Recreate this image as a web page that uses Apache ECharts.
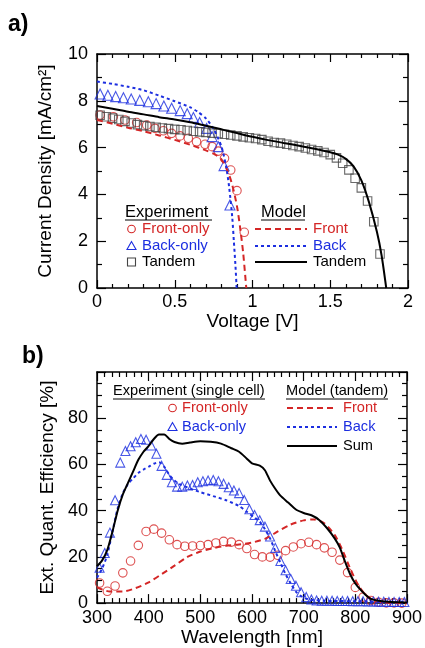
<!DOCTYPE html>
<html>
<head>
<meta charset="utf-8">
<script src="https://cdn.jsdelivr.net/npm/echarts@6/dist/echarts.min.js"></script>
<style>
  html, body { margin: 0; padding: 0; background: #fff; }
  #chart { width: 425px; height: 648px; }
</style>
</head>
<body>
<div id="chart"></div>
<script>
"use strict";
// ---- panel a) J-V curves, [voltage V, current density mA/cm2] ----
const jvFrontExp = [[0.02,7.39],[0.105,7.32],[0.18,7.18],[0.255,7.07],[0.32,6.96],[0.373,6.82],[0.427,6.72],[0.48,6.61],[0.534,6.5],[0.587,6.4],[0.64,6.25],[0.695,6.14],[0.74,6.04],[0.78,5.85],[0.82,5.54],[0.86,5.04],[0.9,4.16],[0.947,2.38]];
const jvBackExp = [[0.02,8.29],[0.07,8.24],[0.12,8.18],[0.17,8.13],[0.22,8.08],[0.275,8.02],[0.33,7.96],[0.38,7.88],[0.43,7.78],[0.48,7.68],[0.535,7.58],[0.58,7.45],[0.62,7.29],[0.66,7.07],[0.705,6.82],[0.74,6.47],[0.78,6.04],[0.817,5.23],[0.855,3.55]];
const jvTandemExp = [[0.02,7.38],[0.06,7.32],[0.1,7.26],[0.14,7.2],[0.18,7.12],[0.22,7.05],[0.26,6.98],[0.3,6.94],[0.34,6.9],[0.38,6.87],[0.42,6.84],[0.46,6.81],[0.5,6.78],[0.54,6.76],[0.58,6.73],[0.62,6.7],[0.66,6.67],[0.7,6.65],[0.74,6.62],[0.78,6.6],[0.82,6.57],[0.86,6.54],[0.9,6.5],[0.94,6.46],[0.98,6.42],[1.02,6.39],[1.06,6.34],[1.1,6.27],[1.14,6.22],[1.18,6.19],[1.22,6.14],[1.26,6.09],[1.3,6.04],[1.34,5.98],[1.38,5.92],[1.42,5.86],[1.46,5.79],[1.5,5.7],[1.54,5.56],[1.58,5.33],[1.62,5.05],[1.66,4.69],[1.7,4.28],[1.74,3.72],[1.78,2.83],[1.82,1.45]];
const jvFrontModel = [[0,7.18],[0.1,7.02],[0.2,6.85],[0.3,6.7],[0.4,6.52],[0.5,6.33],[0.6,6.12],[0.7,5.88],[0.76,5.7],[0.8,5.5],[0.84,5.0],[0.87,4.4],[0.9,3.5],[0.92,2.6],[0.94,1.5],[0.96,0]];
const jvBackModel = [[0,8.82],[0.1,8.72],[0.2,8.6],[0.3,8.45],[0.4,8.22],[0.5,7.98],[0.6,7.72],[0.65,7.52],[0.7,7.25],[0.75,6.8],[0.8,6.05],[0.83,5.2],[0.85,4.3],[0.87,3.0],[0.88,2.0],[0.89,1.0],[0.898,0]];
const jvTandemModel = [[0,7.78],[0.1,7.66],[0.2,7.53],[0.3,7.42],[0.4,7.3],[0.5,7.2],[0.6,7.08],[0.7,6.93],[0.8,6.78],[0.9,6.62],[1.0,6.46],[1.1,6.32],[1.2,6.2],[1.3,6.08],[1.4,5.95],[1.5,5.8],[1.55,5.7],[1.6,5.52],[1.65,5.2],[1.7,4.6],[1.75,3.65],[1.8,2.4],[1.83,1.4],[1.86,0]];

// ---- panel b) EQE spectra, [wavelength nm, EQE %] ----
const eqeFrontExp = [[305,8.7],[320,5.1],[335,7.4],[350,13.1],[365,18.2],[380,25.0],[395,31.0],[410,32.0],[425,30.3],[440,27.4],[455,25.3],[470,24.6],[485,24.7],[500,24.9],[515,25.3],[530,26.0],[545,26.7],[560,26.4],[575,25.3],[590,23.6],[605,21.0],[620,20.0],[635,19.9],[650,20.7],[665,22.7],[680,24.3],[695,25.7],[710,26.3],[725,25.3],[740,23.9],[755,22.0],[770,18.6],[785,13.2],[800,6.8],[815,2.6],[830,1.1],[845,0.4],[860,0.1],[875,0.1],[890,0]];
const eqeBackExp = [[305,15.3],[315,21.7],[325,30.5],[335,44.5],[345,60.8],[355,65.8],[365,67.9],[375,69.6],[385,71.0],[395,70.7],[405,68.2],[415,64.6],[425,59.4],[435,55.5],[445,52.3],[455,50.4],[465,50.4],[475,50.9],[485,51.1],[495,52.3],[505,52.7],[515,53.1],[525,53.3],[535,52.7],[545,51.6],[555,50.1],[565,48.7],[575,47.6],[585,44.6],[595,40.6],[605,38.1],[615,35.9],[625,33.1],[635,28.8],[645,23.9],[655,18.2],[665,14.2],[675,10.4],[685,7.5],[695,4.7],[705,2.6],[715,1.6],[725,1.1],[735,1.0],[745,1.0],[755,1.0],[765,0.9],[775,0.9],[785,0.9],[795,0.8],[805,0.8],[815,0.8],[825,0.7],[835,0.7],[845,0.6],[855,0.6],[865,0.5],[875,0.5],[885,0.5],[895,0.5]];
const eqeFrontModel = [[300,6.8],[325,5.0],[350,5.0],[375,6.5],[400,9.0],[425,12.5],[450,16.2],[475,20.0],[500,22.3],[525,23.8],[550,24.8],[575,25.4],[600,26.2],[625,27.8],[650,31],[675,34],[700,35.8],[720,36.2],[740,34.5],[760,29.5],[775,23],[790,15],[805,8],[820,3.5],[835,1.2],[850,0.4],[875,0.1],[900,0]];
const eqeBackModel = [[300,11],[310,15],[320,21],[330,31],[340,41],[350,47.5],[360,51.5],[370,54],[380,56.3],[390,57.8],[400,59],[410,60.3],[420,61],[430,59],[440,55.5],[450,53],[460,51.5],[475,50],[500,48],[525,46.3],[550,44.5],[575,42],[590,39.5],[605,37],[615,35.2],[625,32],[635,28],[645,22.5],[655,17.5],[665,12.5],[675,8.5],[685,5],[695,3],[710,1.6],[740,1.0],[800,0.8],[850,0.5],[900,0.3]];
const eqeSumModel = [[300,16],[310,18.5],[320,23],[330,31],[340,40],[350,47],[360,52],[370,57],[380,62],[390,65.5],[400,68],[410,71],[420,73],[430,73],[440,71],[450,69.7],[465,69],[480,69.5],[500,70],[520,69.8],[540,69],[560,67],[575,65.5],[590,62.5],[600,60.5],[615,59.5],[625,57.5],[635,53],[645,49.5],[655,46.5],[670,43.5],[685,40.5],[700,39],[715,38],[730,36],[745,32.5],[760,28],[770,24],[780,18],[790,12.5],[800,8.5],[810,5.8],[820,3.5],[830,1.8],[845,1.0],[870,0.5],[900,0.3]];

const RED = '#d42626';
const BLUE = '#1c2ee0';
const FONT = 'Liberation Sans, Arial, sans-serif';

var chart = echarts.init(document.getElementById('chart'));

// one axis (labelled or mirrored) with inside ticks
function axis(kind, grid, pos, min, max, interval, minorSplit, tickLen, opts) {
  var a = {
    gridIndex: grid, type: 'value', position: pos,
    min: min, max: max, interval: interval,
    axisLine: { show: true, onZero: false, lineStyle: { color: '#000', width: 1.5 } },
    axisTick: { show: true, inside: true, length: tickLen, lineStyle: { color: '#000', width: 1.2 } },
    minorTick: { show: true, splitNumber: minorSplit, length: Math.round(tickLen * 0.55), lineStyle: { color: '#000', width: 1.2 } },
    splitLine: { show: false },
    minorSplitLine: { show: false },
    axisLabel: { show: false }
  };
  return Object.assign(a, opts || {});
}

function label(margin, formatter) {
  return { show: true, color: '#000', fontSize: 18, fontFamily: FONT, margin: margin, formatter: formatter };
}
var nameStyle = { color: '#000', fontSize: 19, fontFamily: FONT };

function scatter(name, data, xi, yi, symbol, size, color) {
  return {
    name: name, type: 'scatter', xAxisIndex: xi, yAxisIndex: yi, data: data,
    symbol: symbol, symbolSize: size,
    itemStyle: { color: 'rgba(0,0,0,0)', borderColor: color, borderWidth: 1.1 }
  };
}
function curve(name, data, xi, yi, color, dash) {
  return {
    name: name, type: 'line', xAxisIndex: xi, yAxisIndex: yi, data: data,
    showSymbol: false, smooth: 0.25,
    lineStyle: { color: color, width: 2, type: dash }
  };
}

// legend drawn as plain graphics
function txt(x, y, s, color, size, weight) {
  return { type: 'text', x: x, y: y, style: { text: s, fill: color, font: (weight || 'normal') + ' ' + size + 'px ' + FONT, align: 'left', verticalAlign: 'middle' } };
}
function seg(x1, x2, y, color, dash, w) {
  return { type: 'line', shape: { x1: x1, y1: y, x2: x2, y2: y }, style: { stroke: color, lineWidth: w || 2, lineDash: dash } };
}
function circ(x, y) {
  return { type: 'circle', shape: { cx: x, cy: y, r: 3.8 }, style: { fill: 'none', stroke: RED, lineWidth: 1.1 } };
}
function tri(x, y) {
  return { type: 'polygon', shape: { points: [[x, y - 4.5], [x - 4.5, y + 3.5], [x + 4.5, y + 3.5]] }, style: { fill: 'none', stroke: BLUE, lineWidth: 1.1 } };
}
function sq(x, y) {
  return { type: 'rect', shape: { x: x - 4, y: y - 4, width: 8, height: 8 }, style: { fill: 'none', stroke: '#444', lineWidth: 1.1 } };
}

var graphics = [
  txt(8, 25, 'a)', '#000', 23, 'bold'),
  txt(22, 357, 'b)', '#000', 23, 'bold'),
  // panel a legend
  txt(125, 212, 'Experiment', '#000', 16.5), seg(125, 212, 220, '#000', null, 1),
  circ(131.5, 229), txt(142, 229, 'Front-only', RED, 15),
  tri(131.5, 246), txt(142, 246, 'Back-only', BLUE, 15),
  sq(131.5, 262), txt(142, 262, 'Tandem', '#000', 15),
  txt(261, 212, 'Model', '#000', 16.5), seg(261, 305, 220, '#000', null, 1),
  seg(255, 307, 229, RED, [6, 4]), txt(313, 229, 'Front', RED, 15),
  seg(255, 307, 246, BLUE, [3, 3]), txt(313, 246, 'Back', BLUE, 15),
  seg(255, 307, 262, '#000', null), txt(313, 262, 'Tandem', '#000', 15),
  // panel b legend
  txt(113, 391, 'Experiment (single cell)', '#000', 14.6), seg(113, 265, 399, '#000', null, 1),
  circ(172.5, 408), txt(182, 408, 'Front-only', RED, 14.6),
  tri(172.5, 427), txt(182, 427, 'Back-only', BLUE, 14.6),
  txt(286, 391, 'Model (tandem)', '#000', 14.6), seg(286, 388, 399, '#000', null, 1),
  seg(287, 337, 408, RED, [6, 4]), txt(343, 408, 'Front', RED, 14.6),
  seg(287, 337, 427, BLUE, [3, 3]), txt(343, 427, 'Back', BLUE, 14.6),
  seg(287, 337, 446, '#000', null), txt(343, 446, 'Sum', '#000', 14.6)
];

var option = {
  animation: false,
  backgroundColor: '#fff',
  textStyle: { fontFamily: FONT },
  grid: [
    { left: 97, top: 54, width: 311, height: 234 },
    { left: 97, top: 372, width: 310, height: 234 }
  ],
  xAxis: [
    axis('x', 0, 'bottom', 0, 2, 0.5, 5, 8, { axisLabel: label(5), name: 'Voltage [V]', nameLocation: 'middle', nameGap: 22, nameTextStyle: nameStyle }),
    axis('x', 0, 'top', 0, 2, 0.5, 5, 8),
    axis('x', 1, 'bottom', 300, 900, 100, 7, 9, { axisLabel: label(6), name: 'Wavelength [nm]', nameLocation: 'middle', nameGap: 22, nameTextStyle: nameStyle }),
    axis('x', 1, 'top', 300, 900, 100, 7, 9)
  ],
  yAxis: [
    axis('y', 0, 'left', 0, 10, 2, 2, 9, { axisLabel: label(9), name: 'Current Density [mA/cm²]', nameLocation: 'middle', nameGap: 42, nameTextStyle: nameStyle }),
    axis('y', 0, 'right', 0, 10, 2, 2, 9),
    axis('y', 1, 'left', 0, 100, 20, 4, 9, { axisLabel: label(9, function (v) { return v === 100 ? '' : String(v); }), name: 'Ext. Quant. Efficiency [%]', nameLocation: 'middle', nameGap: 40, nameTextStyle: nameStyle }),
    axis('y', 1, 'right', 0, 100, 20, 4, 9)
  ],
  series: [
    curve('Front model', jvFrontModel, 0, 0, RED, [6, 4]),
    curve('Back model', jvBackModel, 0, 0, BLUE, [3, 3]),
    curve('Tandem model', jvTandemModel, 0, 0, '#000', 'solid'),
    scatter('Front-only', jvFrontExp, 0, 0, 'circle', 8.5, RED),
    scatter('Back-only', jvBackExp, 0, 0, 'triangle', 10, BLUE),
    scatter('Tandem', jvTandemExp, 0, 0, 'rect', 8.5, '#444'),

    curve('Front (tandem)', eqeFrontModel, 2, 2, RED, [6, 4]),
    curve('Back (tandem)', eqeBackModel, 2, 2, BLUE, [3, 3]),
    curve('Sum', eqeSumModel, 2, 2, '#000', 'solid'),
    scatter('Front-only EQE', eqeFrontExp, 2, 2, 'circle', 8.5, RED),
    scatter('Back-only EQE', eqeBackExp, 2, 2, 'triangle', 9, BLUE)
  ],
  graphic: graphics
};

chart.setOption(option);
</script>
</body>
</html>
